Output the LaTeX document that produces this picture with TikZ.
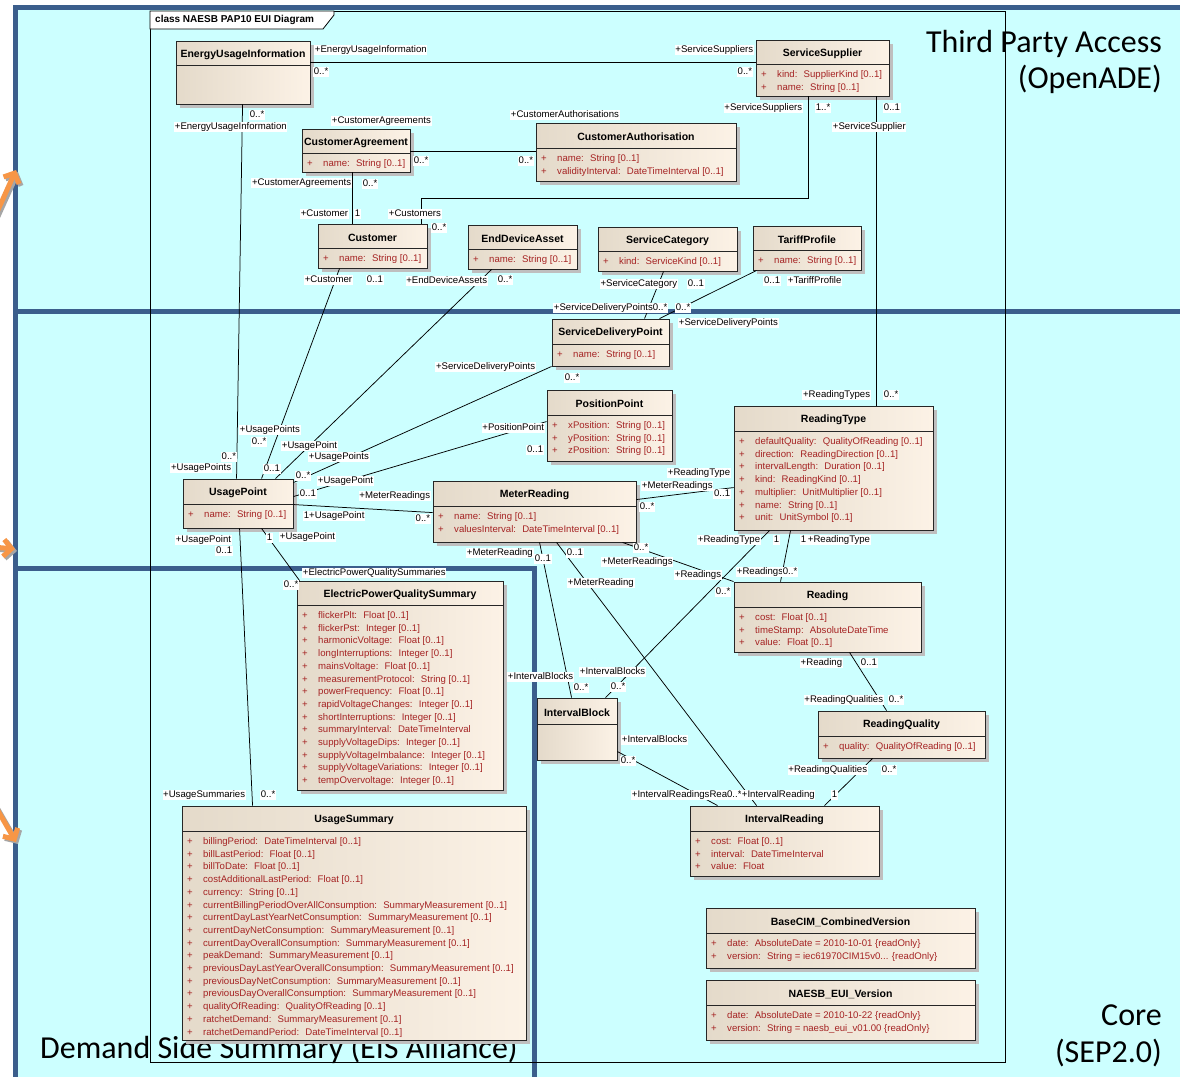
\documentclass[tikz,border=0pt]{standalone}
\usepackage{fontspec}
\setmainfont{Liberation Sans}
\newfontfamily\regionfont{Carlito}
\usetikzlibrary{calc,fit,arrows.meta}
\definecolor{bgcyan}{RGB}{204,255,255}
\definecolor{laneblue}{RGB}{59,94,140}
\definecolor{clsL}{RGB}{228,218,202}
\definecolor{clsR}{RGB}{252,242,230}
\definecolor{attrred}{RGB}{165,35,35}
\definecolor{arroworange}{RGB}{247,150,70}

% UML class box: name, x1, y1, x2, y2, header height, title
\newcommand\umlclass[7]{%
  \fill[boxshadow] (#2+4,#3+4) rectangle (#4+4,#5+4);
  \node[umlbox,fit={(#2,#3) (#4,#5)}] (#1) {};
  \draw[black!85,line width=0.9pt] (#2,#3+#6) -- (#4,#3+#6);
  \node[clsname] (#1-title) at ({(#2+#4)/2},#3+#6/2+1.5) {#7};
}
% attribute rows: class name, x1, header bottom y, list
\newcommand\umlattrs[4]{%
  \foreach \attrtext [count=\attrno] in {#4} {
    \node[attr,anchor=base west] (#1-a\attrno) at (#2+5,#3+13.5+12.7*\attrno-12.7)
      {\makebox[16pt][l]{+}\attrtext};
  }
}
\newcounter{lblno}
\newcommand\lbl[3][west]{\stepcounter{lblno}\node[lbl,anchor=#1] (lbl\arabic{lblno}) at (#2) {#3};}

\begin{document}
\begin{tikzpicture}[x=1pt,y=-1pt,
  lane/.style={laneblue,line width=5pt},
  frameline/.style={black,line width=0.8pt},
  assoc/.style={black,line width=0.75pt},
  umlbox/.style={draw=black!85,line width=0.9pt,inner sep=0pt,left color=clsL,right color=clsR},
  boxshadow/.style={fill=black!25},
  clsname/.style={font=\fontsize{10.5}{12}\selectfont\bfseries,inner sep=0pt},
  attr/.style={font=\fontsize{9.6}{10}\selectfont,text=attrred,inner sep=0pt},
  lbl/.style={font=\fontsize{9.6}{10}\selectfont,fill=white,inner sep=0.7pt,text height=6.8pt,text depth=2pt},
  region/.style={font=\regionfont\fontsize{32}{36}\selectfont,inner sep=0pt},
  orangearrow/.style={line width=5pt,-{Straight Barb[length=8pt,width=17pt]}},
]
\useasboundingbox (0,0) rectangle (1180,1077);
\clip (0,0) rectangle (1180,1077);

% background and swim-lane borders
\fill[white] (0,0) rectangle (1180,1077);
\fill[bgcyan] (13,5) rectangle (1180,1077);
\draw[lane] (13,7.5) -- (1180,7.5);
\draw[lane] (15,5) -- (15,1077);
\draw[lane] (13,311) -- (1180,311);
\draw[lane] (13,568) -- (534,568) -- (534,1077);

% arrows entering from the left
\draw[orangearrow,black!35,shift={(2,2)}] (-12,232) -- (16,170);
\draw[orangearrow,arroworange] (-12,232) -- (16,170);
\draw[orangearrow,black!35,shift={(2,2)}] (-30,545) -- (15,549);
\draw[orangearrow,arroworange] (-30,545) -- (15,549);
\draw[orangearrow,black!35,shift={(2,2)}] (-14,790) -- (16,842);
\draw[orangearrow,arroworange] (-14,790) -- (16,842);

% lane titles
\node[region,anchor=base east] (tpa1) at (1162,52) {Third Party Access};
\node[region,anchor=base east] (tpa2) at (1162,88) {(OpenADE)};
\node[region,anchor=base east] (core1) at (1162,1025) {Core};
\node[region,anchor=base east] (core2) at (1162,1062) {(SEP2.0)};
\node[region,anchor=base west] (dss) at (40,1058) {Demand Side Summary (EIS Alliance)};

% diagram frame
\draw[frameline] (150,11) rectangle (1005,1062);
\draw[frameline,fill=white] (150,11) -- (334,11) -- (334,15) -- (323,29) -- (150,29) -- cycle;
\node[font=\fontsize{10}{11}\selectfont\bfseries,anchor=west,inner sep=0pt] (frametitle) at (155,20) {class NAESB PAP10 EUI Diagram};

% classes
\umlclass{eui}{176}{41}{310}{104}{24}{EnergyUsageInformation}
\umlclass{ss}{756}{40}{889}{96}{24}{ServiceSupplier}
\umlattrs{ss}{756}{64}{kind:~ SupplierKind [0..1], name:~ String [0..1]}
\umlclass{ca}{302}{129}{410}{172}{24}{CustomerAgreement}
\umlattrs{ca}{302}{153}{name:~ String [0..1]}
\umlclass{cauth}{536}{123}{736}{181}{25}{CustomerAuthorisation}
\umlattrs{cauth}{536}{148}{name:~ String [0..1], validityInterval:~ DateTimeInterval [0..1]}
\umlclass{cust}{318}{224}{427}{268}{24}{Customer}
\umlattrs{cust}{318}{248}{name:~ String [0..1]}
\umlclass{eda}{468}{225}{577}{269}{24}{EndDeviceAsset}
\umlattrs{eda}{468}{249}{name:~ String [0..1]}
\umlclass{scat}{598}{227}{737}{271}{24}{ServiceCategory}
\umlattrs{scat}{598}{251}{kind:~ ServiceKind [0..1]}
\umlclass{tp}{753}{226}{861}{270}{24}{TariffProfile}
\umlattrs{tp}{753}{250}{name:~ String [0..1]}
\umlclass{sdp}{552}{319}{669}{366}{25}{ServiceDeliveryPoint}
\umlattrs{sdp}{552}{344}{name:~ String [0..1]}
\umlclass{pp}{547}{390}{672}{461}{25}{PositionPoint}
\umlattrs{pp}{547}{415}{xPosition:~ String [0..1], yPosition:~ String [0..1], zPosition:~ String [0..1]}
\umlclass{rt}{734}{406}{933}{530}{25}{ReadingType}
\umlattrs{rt}{734}{431}{defaultQuality:~ QualityOfReading [0..1], direction:~ ReadingDirection [0..1], intervalLength:~ Duration [0..1], kind:~ ReadingKind [0..1], multiplier:~ UnitMultiplier [0..1], name:~ String [0..1], unit:~ UnitSymbol [0..1]}
\umlclass{up}{183}{479}{293}{528}{25}{UsagePoint}
\umlattrs{up}{183}{504}{name:~ String [0..1]}
\umlclass{mr}{433}{481}{636}{542}{25}{MeterReading}
\umlattrs{mr}{433}{506}{name:~ String [0..1], valuesInterval:~ DateTimeInterval [0..1]}
\umlclass{rd}{734}{582}{921}{652}{25}{Reading}
\umlattrs{rd}{734}{607}{cost:~ Float [0..1], timeStamp:~ AbsoluteDateTime, value:~ Float [0..1]}
\umlclass{epqs}{297}{581}{503}{790}{24}{ElectricPowerQualitySummary}
\umlattrs{epqs}{297}{605}{flickerPlt:~ Float [0..1], flickerPst:~ Integer [0..1], harmonicVoltage:~ Float [0..1], longInterruptions:~ Integer [0..1], mainsVoltage:~ Float [0..1], measurementProtocol:~ String [0..1], powerFrequency:~ Float [0..1], rapidVoltageChanges:~ Integer [0..1], shortInterruptions:~ Integer [0..1], summaryInterval:~ DateTimeInterval, supplyVoltageDips:~ Integer [0..1], supplyVoltageImbalance:~ Integer [0..1], supplyVoltageVariations:~ Integer [0..1], tempOvervoltage:~ Integer [0..1]}
\umlclass{ib}{537}{698}{617}{760}{26}{IntervalBlock}
\umlclass{rq}{818}{711}{985}{758}{25}{ReadingQuality}
\umlattrs{rq}{818}{736}{quality:~ QualityOfReading [0..1]}
\umlclass{ir}{690}{806}{879}{876}{25}{IntervalReading}
\umlattrs{ir}{690}{831}{cost:~ Float [0..1], interval:~ DateTimeInterval, value:~ Float}
\umlclass{us}{182}{806}{526}{1040}{25}{UsageSummary}
\umlattrs{us}{182}{831}{billingPeriod:~ DateTimeInterval [0..1], billLastPeriod:~ Float [0..1], billToDate:~ Float [0..1], costAdditionalLastPeriod:~ Float [0..1], currency:~ String [0..1], currentBillingPeriodOverAllConsumption:~ SummaryMeasurement [0..1], currentDayLastYearNetConsumption:~ SummaryMeasurement [0..1], currentDayNetConsumption:~ SummaryMeasurement [0..1], currentDayOverallConsumption:~ SummaryMeasurement [0..1], peakDemand:~ SummaryMeasurement [0..1], previousDayLastYearOverallConsumption:~ SummaryMeasurement [0..1], previousDayNetConsumption:~ SummaryMeasurement [0..1], previousDayOverallConsumption:~ SummaryMeasurement [0..1], qualityOfReading:~ QualityOfReading [0..1], ratchetDemand:~ SummaryMeasurement [0..1], ratchetDemandPeriod:~ DateTimeInterval [0..1]}
\umlclass{bcv}{706}{908}{975}{968}{25}{BaseCIM\_CombinedVersion}
\umlattrs{bcv}{706}{933}{date:~ AbsoluteDate = 2010-10-01 \{readOnly\}, version:~ String = iec61970CIM15v0{.}{.}{.} \{readOnly\}}
\umlclass{nev}{706}{980}{975}{1040}{25}{NAESB\_EUI\_Version}
\umlattrs{nev}{706}{1005}{date:~ AbsoluteDate = 2010-10-22 \{readOnly\}, version:~ String = naesb\_eui\_v01.00 \{readOnly\}}

% associations
\draw[assoc] ($(eui.north east)+(0,22)$) -- ($(ss.north west)+(0,23)$);
\draw[assoc] ($(eui.south west)+(67,0)$) -- ($(up.north west)+(54,0)$);
\draw[assoc] ($(ca.north east)+(0,23)$) -- ($(cauth.north west)+(0,29)$);
\draw[assoc] ($(ca.south west)+(51,0)$) -- ($(cust.north west)+(35,0)$);
\draw[assoc] ($(cust.north west)+(104,0)$) -- ++(0,-25) -| ($(ss.south west)+(53,0)$);
\draw[assoc] ($(ss.south west)+(121,0)$) -- ($(rt.north west)+(143,0)$);
\draw[assoc] ($(cust.south west)+(22,0)$) -- ($(up.north west)+(79,0)$);
\draw[assoc] ($(eda.south west)+(24,0)$) -- ($(up.north west)+(93,0)$);
\draw[assoc] ($(scat.south west)+(66,0)$) -- ($(sdp.north west)+(93,0)$);
\draw[assoc] ($(tp.south west)+(4,0)$) -- ($(sdp.north west)+(108,0)$);
\draw[assoc] (sdp.south west) -- ($(up.north east)+(0,4)$);
\draw[assoc] ($(pp.north west)+(0,32)$) -- ($(up.north east)+(0,18)$);
\draw[assoc] ($(up.north east)+(0,26)$) -- ($(mr.north west)+(0,32)$);
\draw[assoc] ($(up.south west)+(79,0)$) -- ($(epqs.north west)+(3,0)$);
\draw[assoc] ($(up.south west)+(57,0)$) -- ($(us.north west)+(71,0)$);
\draw[assoc] ($(mr.north east)+(0,19)$) -- ($(rt.north west)+(0,82)$);
\draw[assoc] ($(mr.south west)+(190,0)$) -- (rd.north west);
\draw[assoc] ($(rt.south west)+(36,0)$) -- ($(ib.north west)+(69,0)$);
\draw[assoc] ($(rt.south west)+(57,0)$) -- ($(rd.north west)+(47,0)$);
\draw[assoc] ($(mr.south west)+(107,0)$) -- ($(ib.north west)+(35,0)$);
\draw[assoc] ($(mr.south west)+(124,0)$) -- ($(ir.north west)+(67,0)$);
\draw[assoc] ($(ib.north east)+(0,54)$) -- ($(ir.north west)+(28,0)$);
\draw[assoc] ($(rd.south west)+(116,0)$) -- ($(rq.north west)+(69,0)$);
\draw[assoc] ($(rq.south west)+(55,0)$) -- ($(ir.north west)+(135,0)$);

% role names and multiplicities
\lbl{314,50}{+EnergyUsageInformation}
\lbl{313,72}{0..*}
\lbl[east]{754,50}{+ServiceSuppliers}
\lbl[east]{753,72}{0..*}
\lbl{249,115}{0..*}
\lbl{174,127}{+EnergyUsageInformation}
\lbl[east]{237,457}{0..*}
\lbl[east]{232,468}{+UsagePoints}
\lbl{331,121}{+CustomerAgreements}
\lbl{413,161}{0..*}
\lbl[east]{534,161}{0..*}
\lbl{510,115}{+CustomerAuthorisations}
\lbl[east]{352,183}{+CustomerAgreements}
\lbl{362,184}{0..*}
\lbl[east]{349,214}{+Customer}
\lbl{354,214}{1}
\lbl{388,214}{+Customers}
\lbl{431,228}{0..*}
\lbl[east]{803,108}{+ServiceSuppliers}
\lbl{815,108}{1..*}
\lbl{883,108}{0..1}
\lbl{832,127}{+ServiceSupplier}
\lbl[east]{871,395}{+ReadingTypes}
\lbl{883,395}{0..*}
\lbl[east]{353,280}{+Customer}
\lbl{366,280}{0..1}
\lbl{239,430}{+UsagePoints}
\lbl{251,442}{0..*}
\lbl[east]{488,281}{+EndDeviceAssets}
\lbl{497,280}{0..*}
\lbl{281,446}{+UsagePoint}
\lbl{263,469}{0..1}
\lbl[east]{678,284}{+ServiceCategory}
\lbl{687,284}{0..1}
\lbl{553,308}{+ServiceDeliveryPoints0..*}
\lbl{675,308}{0..*}
\lbl[east]{781,281}{0..1}
\lbl{787,281}{+TariffProfile}
\lbl{678,323}{+ServiceDeliveryPoints}
\lbl[east]{536,367}{+ServiceDeliveryPoints}
\lbl{564,378}{0..*}
\lbl{308,457}{+UsagePoints}
\lbl{295,476}{0..*}
\lbl[east]{545,428}{+PositionPoint}
\lbl[east]{544,450}{0..1}
\lbl{317,481}{+UsagePoint}
\lbl{299,494}{0..1}
\lbl[east]{431,496}{+MeterReadings}
\lbl[east]{431,519}{0..*}
\lbl{303,516}{1+UsagePoint}
\lbl{266,538}{1}
\lbl{279,537}{+UsagePoint}
\lbl{302,573}{+ElectricPowerQualitySummaries}
\lbl{283,585}{0..*}
\lbl[east]{232,540}{+UsagePoint}
\lbl[east]{233,551}{0..1}
\lbl[east]{246,795}{+UsageSummaries}
\lbl{260,795}{0..*}
\lbl[east]{731,473}{+ReadingType}
\lbl{641,486}{+MeterReadings}
\lbl[east]{731,494}{0..1}
\lbl{639,507}{0..*}
\lbl[east]{761,540}{+ReadingType}
\lbl{773,540}{1}
\lbl{579,672}{+IntervalBlocks}
\lbl{610,687}{0..*}
\lbl{800,540}{1}
\lbl{807,540}{+ReadingType}
\lbl{736,572}{+Readings}
\lbl{782,572}{0..*}
\lbl{633,548}{0..*}
\lbl{601,562}{+MeterReadings}
\lbl{674,575}{+Readings}
\lbl{715,592}{0..*}
\lbl{466,553}{+MeterReading}
\lbl{534,559}{0..1}
\lbl{507,677}{+IntervalBlocks}
\lbl{573,688}{0..*}
\lbl{566,553}{0..1}
\lbl{567,583}{+MeterReading}
\lbl{631,795}{+IntervalReadingsRea0..*}
\lbl{741,795}{+IntervalReading}
\lbl{621,740}{+IntervalBlocks}
\lbl{620,761}{0..*}
\lbl[east]{843,663}{+Reading}
\lbl{860,663}{0..1}
\lbl[east]{884,700}{+ReadingQualities}
\lbl{888,700}{0..*}
\lbl[east]{868,770}{+ReadingQualities}
\lbl{881,770}{0..*}
\lbl{831,795}{1}
\end{tikzpicture}
\end{document}
